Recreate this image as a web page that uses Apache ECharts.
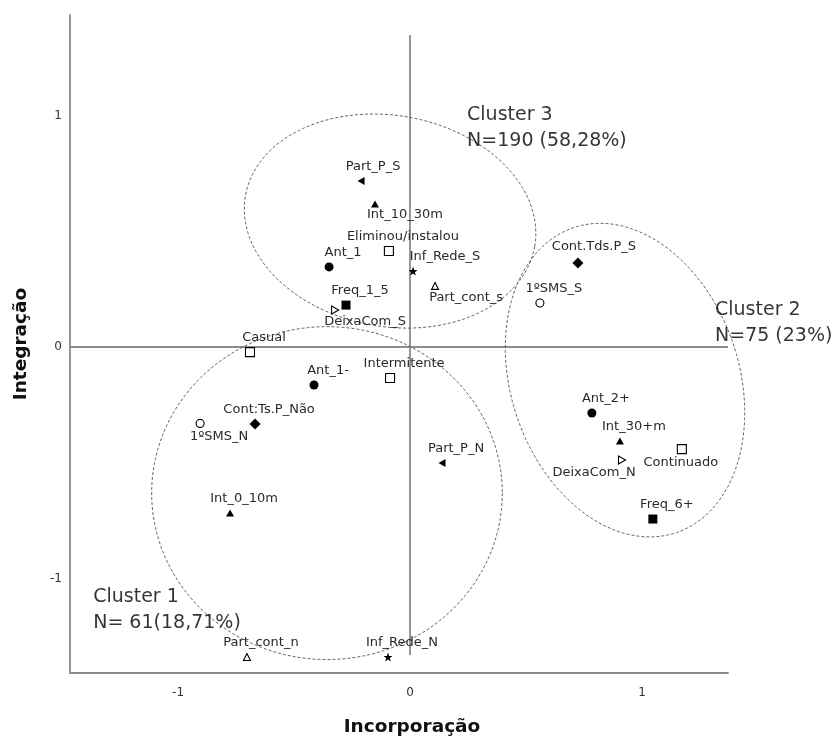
<!DOCTYPE html>
<html>
<head>
<meta charset="utf-8">
<script src="https://cdn.jsdelivr.net/npm/echarts@6/dist/echarts.min.js"></script>
<style>html,body{margin:0;padding:0;background:#fff}#c{width:838px;height:738px}</style>
</head>
<body>
<div id="c"></div>
<script>
// ---- data ----
const pointLabels = ['Part_P_S','Int_10_30m','Eliminou/instalou','Ant_1','Inf_Rede_S','Part_cont_s','Freq_1_5','DeixaCom_S','Cont.Tds.P_S','1ºSMS_S','Casual','Ant_1-','Intermitente','Cont:Ts.P_Não','1ºSMS_N','Int_0_10m','Part_cont_n','Inf_Rede_N','Part_P_N','Ant_2+','Int_30+m','Continuado','DeixaCom_N','Freq_6+'];
const incorporacao = [-0.211,-0.151,-0.091,-0.349,0.013,0.108,-0.276,-0.323,0.724,0.560,-0.690,-0.414,-0.086,-0.668,-0.905,-0.776,-0.703,-0.095,0.138,0.784,0.905,1.172,0.914,1.047];
const integracao = [0.717,0.618,0.415,0.346,0.328,0.264,0.181,0.160,0.363,0.190,-0.022,-0.164,-0.134,-0.333,-0.330,-0.717,-1.339,-1.339,-0.501,-0.285,-0.406,-0.441,-0.488,-0.743];
const variavel = ['Part_P','Int','Uso','Ant','Inf_Rede','Part_cont','Freq','DeixaCom','Cont_Tds','SMS','Uso','Ant','Uso','Cont_Tds','SMS','Int','Part_cont','Inf_Rede','Part_P','Ant','Int','Uso','DeixaCom','Freq'];

const clusterTitles = ['Cluster 1','Cluster 2','Cluster 3'];
const clusterCounts = ['N= 61(18,71%)','N=75 (23%)','N=190 (58,28%)'];
const clusterTextX = [-1.366, 1.315, 0.246];
const clusterTextY = [-1.024, 0.216, 1.058];

const ellipseCx = [-0.358, 0.927, -0.086];
const ellipseCy = [-0.631, -0.143, 0.544];
const ellipseRx = [0.756, 0.492, 0.633];
const ellipseRy = [0.719, 0.695, 0.456];
const ellipseAngle = [0, -18.6, 10];

const xRange = [-1.466, 1.371];
const yRange = [-1.408, 1.434];
const xTicks = [-1, 0, 1];
const yTicks = [-1, 0, 1];
const hRefLine = [[-1.466, 0], [1.371, 0]];
const vRefLine = [[0, 1.348], [0, -1.33]];

// ---- styles (kept apart from data) ----
const symbolStyle = {
  Ant:      {symbol:'circle', size:9, fill:'#000'},
  SMS:      {symbol:'circle', size:8, fill:'#fff'},
  Cont_Tds: {symbol:'diamond', size:[11,11], fill:'#000'},
  Freq:     {symbol:'rect', size:9, fill:'#000'},
  Int:      {symbol:'triangle', size:[8,7], fill:'#000'},
  Part_P:   {symbol:'path://M0,5 L10,0 L10,10 Z', size:[7,8], fill:'#000'},
  Part_cont:{symbol:'triangle', size:[7,7], fill:'#fff'},
  DeixaCom: {symbol:'path://M0,0 L10,5 L0,10 Z', size:[7,8], fill:'#fff'},
  Inf_Rede: {symbol:'path://M0,-10 L2.35,-3.24 9.51,-3.09 3.8,1.24 5.88,8.09 0,4 -5.88,8.09 -3.8,1.24 -9.51,-3.09 -2.35,-3.24 Z', size:9, fill:'#000'},
  Uso:      {symbol:'rect', size:9, fill:'#fff'}
};
const labelShift = {
  'Part_P_S':[12,-14], 'Int_10_30m':[30,11], 'Inf_Rede_S':[32,-14], 'Part_cont_s':[31,12],
  'DeixaCom_S':[30,12], 'Cont.Tds.P_S':[16,-16], '1ºSMS_N':[19,13], 'Continuado':[-1,14],
  'DeixaCom_N':[-28,13]
};
const defaultShift = [14,-14];
const FONT = 'DejaVu Sans';

const groups = [...new Set(variavel)];
const pointSeries = groups.map(g => {
  const st = symbolStyle[g];
  const data = [];
  pointLabels.forEach((n, i) => {
    if (variavel[i] !== g) return;
    data.push({
      name: n,
      value: [incorporacao[i], integracao[i]],
      label: {offset: labelShift[n] || defaultShift}
    });
  });
  return {
    type: 'scatter', name: g, data, z: 5,
    symbol: st.symbol, symbolSize: st.size,
    itemStyle: {color: st.fill, borderColor: '#000', borderWidth: st.fill === '#fff' ? 1.1 : 0, opacity: 1},
    label: {show: true, position: 'inside', formatter: p => p.name, color: '#2a2a2a',
            textBorderWidth: 0, fontFamily: FONT, fontSize: 13, align: 'center', verticalAlign: 'middle'},
    emphasis: {disabled: true}, silent: true
  };
});

const ellipseSeries = {
  type: 'custom', z: 3, silent: true,
  data: ellipseCx.map((c, i) => [c, ellipseCy[i], ellipseRx[i], ellipseRy[i], ellipseAngle[i]]),
  encode: {x: 0, y: 1},
  renderItem: (params, api) => {
    const c = api.coord([api.value(0), api.value(1)]);
    const s = api.size([api.value(2), api.value(3)]);
    const a = api.value(4) * Math.PI / 180;
    const pts = [];
    for (let k = 0; k < 180; k++) {
      const t = k / 180 * 2 * Math.PI;
      const lx = s[0] * Math.cos(t), ly = s[1] * Math.sin(t);
      pts.push([c[0] + lx * Math.cos(a) - ly * Math.sin(a), c[1] + lx * Math.sin(a) + ly * Math.cos(a)]);
    }
    return {type: 'polygon', shape: {points: pts},
            style: {fill: 'none', stroke: '#555', lineWidth: 0.9, lineDash: [3, 2]}};
  }
};

const refLineStyle = {color: '#8c8c8c', width: 1.8};
const refSeries = [hRefLine, vRefLine].map(d => ({
  type: 'line', data: d, symbol: 'none', lineStyle: refLineStyle, z: 2, silent: true, animation: false
}));

const clusterSeries = {
  type: 'scatter', symbolSize: 0, silent: true, z: 6,
  data: clusterTitles.map((t, i) => ({name: t + '\n' + clusterCounts[i], value: [clusterTextX[i], clusterTextY[i]]})),
  label: {show: true, position: 'inside', formatter: p => p.name, align: 'left', verticalAlign: 'top',
          color: '#000', textBorderWidth: 0, fontFamily: FONT, fontSize: 19, lineHeight: 26}
};

const axisCommon = {
  type: 'value',
  axisLine: {show: true, onZero: false, lineStyle: {color: '#8c8c8c', width: 1.8}},
  axisTick: {show: false},
  splitLine: {show: false},
  nameLocation: 'middle',
  nameTextStyle: {fontFamily: FONT, fontWeight: 'bold', fontSize: 18.5, color: '#111'}
};

const chart = echarts.init(document.getElementById('c'), null, {renderer: 'canvas'});
chart.setOption({
  animation: false,
  backgroundColor: '#fff',
  grid: {left: 70, right: 110, top: 15, bottom: 65, containLabel: false, outerBoundsMode: 'none'},
  xAxis: Object.assign({}, axisCommon, {
    min: xRange[0], max: xRange[1], name: 'Incorporação', nameGap: 45,
    nameTextStyle: Object.assign({}, axisCommon.nameTextStyle, {padding: [0, 0, 0, 26]}),
    axisLabel: {customValues: xTicks, color: '#333', fontFamily: FONT, fontSize: 12, margin: 14}
  }),
  yAxis: Object.assign({}, axisCommon, {
    min: yRange[0], max: yRange[1], name: 'Integração', nameGap: 39,
    axisLabel: {customValues: yTicks, color: '#333', fontFamily: FONT, fontSize: 12, margin: 8}
  }),
  series: [...refSeries, ellipseSeries, ...pointSeries, clusterSeries]
});
</script>
</body>
</html>
